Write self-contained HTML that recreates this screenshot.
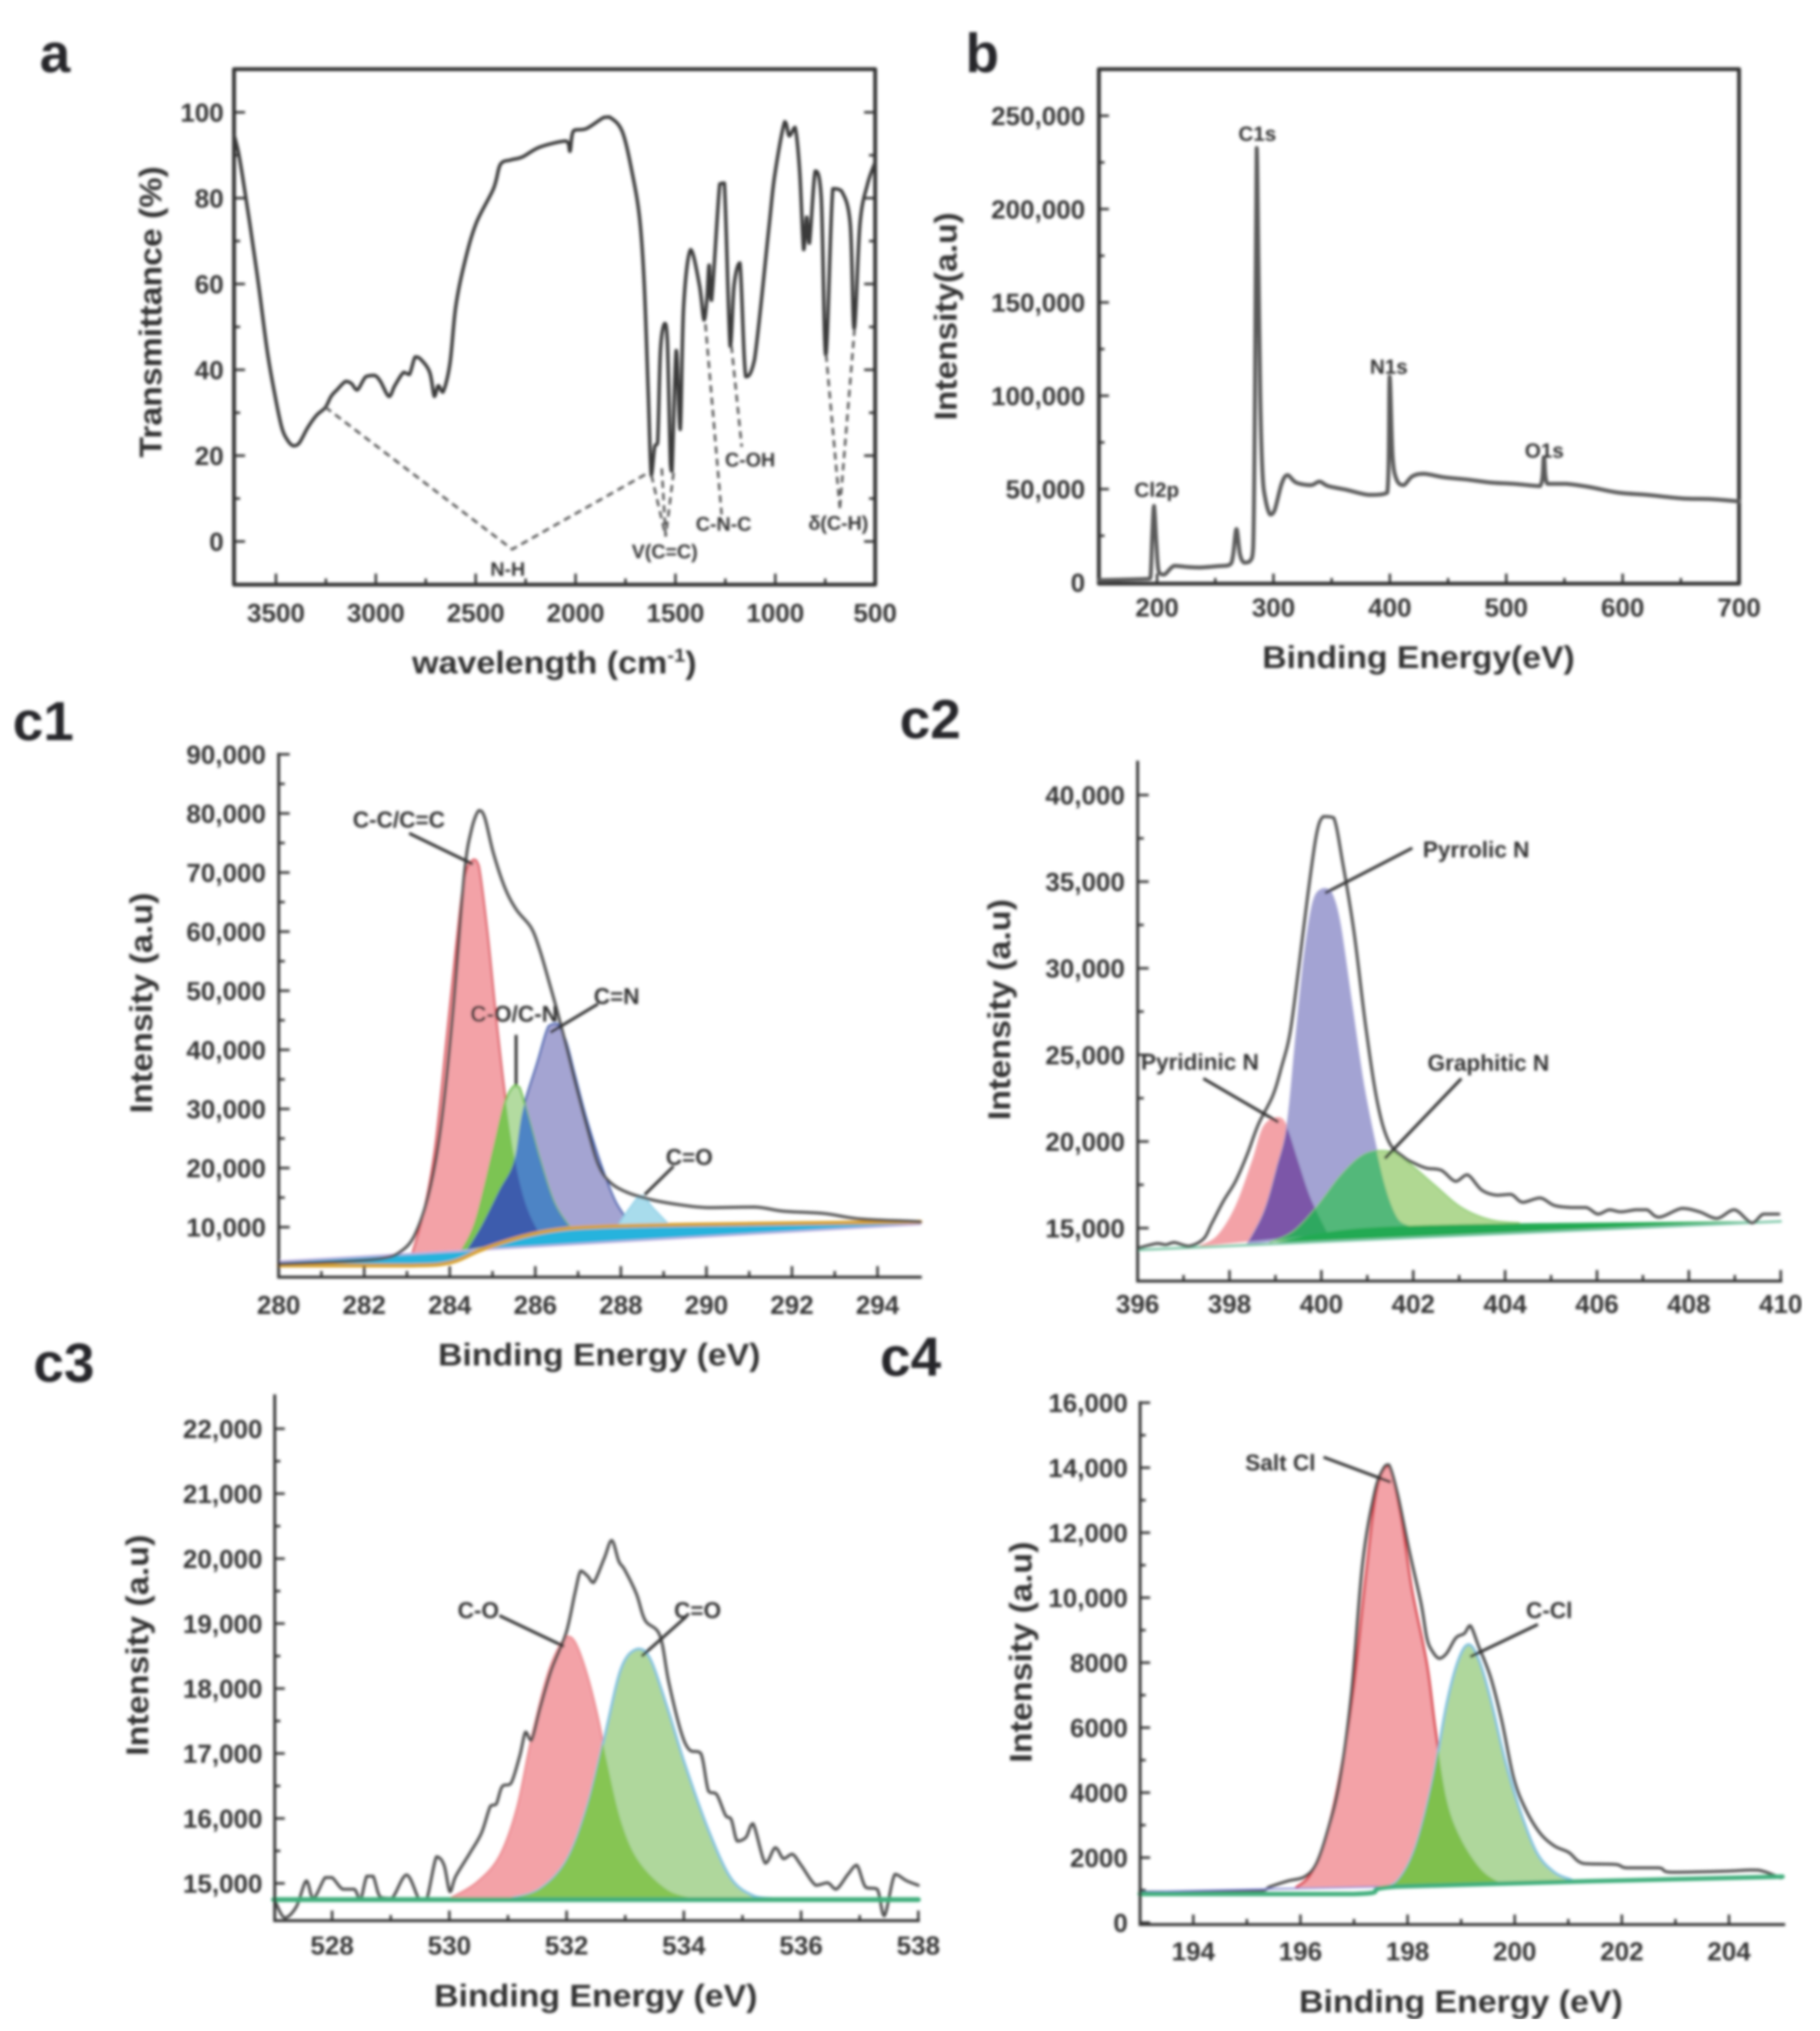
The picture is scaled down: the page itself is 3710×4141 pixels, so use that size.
<!DOCTYPE html>
<html lang="en">
<head>
<meta charset="utf-8">
<title>FTIR and XPS spectra</title>
<style>
html,body{margin:0;padding:0;background:#fff;width:3710px;height:4141px;overflow:hidden}
svg{display:block;font-family:"Liberation Sans",Arial,sans-serif;font-weight:700}
.t{fill:#333;font-size:64px}
.an{fill:#333;font-size:46px;text-anchor:middle}
.pl{fill:#26282c;font-size:112px}
.ld{stroke:#333;stroke-width:6;fill:none}
.ds{stroke:#555;stroke-width:5;stroke-dasharray:15 10;fill:none}
</style>
</head>
<body>
<svg id="fig" xmlns="http://www.w3.org/2000/svg" width="3710" height="4141" viewBox="0 0 3710 4141">
<defs><filter id="soft" x="0" y="0" width="100%" height="100%" filterUnits="objectBoundingBox"><feGaussianBlur stdDeviation="3"/></filter></defs>
<rect width="3710" height="4141" fill="#fff"/>
<g filter="url(#soft)">
<g id="panel-a">
  <g id="a-marks"></g>
  <text class="pl" x="81" y="147">a</text>
  <text class="t" transform="translate(329,933) rotate(-90)" textLength="594" lengthAdjust="spacingAndGlyphs">Transmittance (%)</text>
  <text class="t" x="840" y="1373" textLength="580" lengthAdjust="spacingAndGlyphs">wavelength (cm<tspan font-size="38" dy="-24">-1</tspan><tspan dy="24">)</tspan></text>
  <polyline class="ds" points="663,830 1044,1120 1325,962"/>
  <polyline class="ds" points="1328,969 1357,1094"/>
  <polyline class="ds" points="1349,955 1357,1094"/>
  <polyline class="ds" points="1373,964 1357,1094"/>
  <polyline class="ds" points="1438,661 1471,1049"/>
  <polyline class="ds" points="1491,705 1512,911"/>
  <polyline class="ds" points="1684,723 1712,1036"/>
  <polyline class="ds" points="1742,670 1712,1036"/>
  <text class="an" x="1035" y="1174" style="font-size:40px">N-H</text>
  <text class="an" x="1355" y="1138" style="font-size:40px">V(C=C)</text>
  <text class="an" x="1475" y="1082" style="font-size:40px">C-N-C</text>
  <text class="an" x="1529" y="951" style="font-size:40px">C-OH</text>
  <text class="an" x="1709" y="1080" style="font-size:40px">δ(C-H)</text>
</g>
<g id="panel-b">
  <g id="b-marks"></g>
  <text class="pl" x="1968" y="147">b</text>
  <text class="t" transform="translate(1950,857) rotate(-90)" textLength="424" lengthAdjust="spacingAndGlyphs">Intensity(a.u)</text>
  <text class="t" x="2573" y="1362" textLength="637" lengthAdjust="spacingAndGlyphs">Binding Energy(eV)</text>
  <text class="an" x="2563" y="287" style="font-size:42px">C1s</text>
  <text class="an" x="2831" y="762" style="font-size:42px">N1s</text>
  <text class="an" x="3148" y="933" style="font-size:42px">O1s</text>
  <text class="an" x="2358" y="1013" style="font-size:42px">Cl2p</text>
</g>
<g id="panel-c1">
  <g id="c1-marks"></g>
  <text class="pl" x="26" y="1509">c1</text>
  <text class="t" transform="translate(310,2270) rotate(-90)" textLength="450" lengthAdjust="spacingAndGlyphs">Intensity (a.u)</text>
  <text class="t" x="893" y="2784" textLength="657" lengthAdjust="spacingAndGlyphs">Binding Energy (eV)</text>
  <line class="ld" x1="834" y1="1699" x2="964" y2="1762"/>
  <line class="ld" x1="1052" y1="2110" x2="1052" y2="2212"/>
  <line class="ld" x1="1219" y1="2047" x2="1122" y2="2105"/>
  <line class="ld" x1="1373" y1="2378" x2="1314" y2="2436"/>
  <text class="an" x="813" y="1687">C-C/C=C</text>
  <text class="an" x="1048" y="2083">C-O/C-N</text>
  <text class="an" x="1257" y="2047">C=N</text>
  <text class="an" x="1405" y="2375">C=O</text>
</g>
<g id="panel-c2">
  <g id="c2-marks"></g>
  <text class="pl" x="1834" y="1505">c2</text>
  <text class="t" transform="translate(2059,2284) rotate(-90)" textLength="451" lengthAdjust="spacingAndGlyphs">Intensity (a.u)</text>
  <line class="ld" x1="2879" y1="1729" x2="2701" y2="1821"/>
  <line class="ld" x1="2453" y1="2199" x2="2606" y2="2288"/>
  <line class="ld" x1="2979" y1="2199" x2="2823" y2="2362"/>
  <text class="an" x="3009" y="1748">Pyrrolic N</text>
  <text class="an" x="2446" y="2181">Pyridinic N</text>
  <text class="an" x="3034" y="2183">Graphitic N</text>
</g>
<g id="panel-c3">
  <g id="c3-marks"></g>
  <text class="pl" x="68" y="2817">c3</text>
  <text class="t" transform="translate(302,3580) rotate(-90)" textLength="451" lengthAdjust="spacingAndGlyphs">Intensity (a.u)</text>
  <text class="t" x="885" y="4091" textLength="659" lengthAdjust="spacingAndGlyphs">Binding Energy (eV)</text>
  <line class="ld" x1="1018" y1="3294" x2="1150" y2="3357"/>
  <line class="ld" x1="1399" y1="3296" x2="1308" y2="3377"/>
  <text class="an" x="975" y="3299">C-O</text>
  <text class="an" x="1422" y="3299">C=O</text>
</g>
<g id="panel-c4">
  <g id="c4-marks"></g>
  <text class="pl" x="1794" y="2805">c4</text>
  <text class="t" transform="translate(2103,3594) rotate(-90)" textLength="451" lengthAdjust="spacingAndGlyphs">Intensity (a.u)</text>
  <text class="t" x="2648" y="4103" textLength="660" lengthAdjust="spacingAndGlyphs">Binding Energy (eV)</text>
  <line class="ld" x1="2698" y1="2971" x2="2835" y2="3022"/>
  <line class="ld" x1="3135" y1="3312" x2="2997" y2="3378"/>
  <text class="an" x="2610" y="2998">Salt Cl</text>
  <text class="an" x="3158" y="3299">C-Cl</text>
</g>
</g>
</svg>
<script>
/* ---------- Panel a: FTIR ---------- */
const aWavenumber=[3709,3689,3668,3631,3587,3544,3506,3471,3442,3413,3384,3340,3297,3253,3224,3195,3151,3122,3093,3050,3006,2977,2934,2905,2861,2832,2803,2774,2730,2707,2687,2664,2629,2600,2556,2498,2411,2376,2324,2266,2179,2048,2028,2010,1946,1859,1830,1766,1714,1679,1656,1636,1621,1604,1589,1575,1554,1540,1525,1517,1496,1476,1459,1424,1380,1357,1342,1331,1319,1278,1255,1226,1206,1177,1148,1104,1032,1003,953,930,901,878,858,843,829,800,770,747,712,669,625,605,576,538,500];
const aTransmittance=[94.6,90.9,85.3,74.1,59.8,44.5,34.3,26.6,23.6,22.3,22.9,26.6,29.4,31.2,33.8,35.3,37.3,36.8,35.3,38.4,38.7,37.3,33.8,36.3,39.4,38.9,43,42.4,39.4,33.8,36.3,34.8,41.4,54.7,64.9,74.1,82.2,87.9,88.9,89.6,91.9,93.3,90.9,95.7,96.2,98.8,98.9,95.5,85.3,75.1,59.8,34.3,15.4,22,23.1,44.5,50.8,46.5,18,16.4,44.5,26.1,54.7,68,59.8,51.6,56.7,64.4,56.2,83.3,83.5,45.5,59.8,64.9,38.4,42.4,73.1,85.3,97.8,94.5,96.5,86.3,68,75.6,69.5,86.3,80.2,43.5,82.2,81.7,74.1,49.6,74.1,83.3,88.4];
const aXTicks=[3500,3000,2500,2000,1500,1000,500];
const aYTicks=[0,20,40,60,80,100];

/* ---------- Panel b: survey ---------- */
const bEnergy=[150,192,194.4,195.9,197.4,199.4,201.4,206.3,214.8,227.3,237.3,252.2,262.2,265.2,268.2,271.2,274.7,279.6,282.6,284.1,285.6,287.1,288.6,290.6,293.1,297.1,301,307,312,319.5,332,339.5,347,362,382,397.8,399.8,402.3,405.8,411.8,419.2,429.2,446.7,466.6,486.6,506.5,529,532.4,535.4,551.4,571.3,596.2,621,651.1,676,700];
const bIntensity=[1200,1900,2800,25800,41000,21100,5900,4200,8900,8200,8000,8700,9400,14100,28600,15200,10600,11300,18800,100900,232700,171300,100900,58600,44600,36400,38700,52800,57500,53500,52100,54000,51600,49700,46900,48100,110300,68000,55100,52100,56800,58200,56300,55100,53500,52800,51600,66900,52800,52800,51100,48100,46900,45000,44600,43400];
const bXTicks=[200,300,400,500,600,700];
const bYTicks=[0,50000,100000,150000,200000,250000];
const bYLabels=["0","50,000","100,000","150,000","200,000","250,000"];

/* ---------- Panel c1 ---------- */
const c1Energy=[280,281.6,282.44,282.85,283.19,283.53,283.8,284.07,284.34,284.5,284.68,284.82,285.02,285.29,285.56,285.9,286.1,286.31,286.51,286.72,286.92,287.19,287.46,287.73,288.14,288.68,289.36,290.04,291.13,291.8,292.76,293.57,294.76,295];
const c1Envelope=[3770,4220,4740,5850,8800,16200,27350,45900,69600,77000,80500,79250,73300,67400,63700,60700,57000,51800,46600,40700,34800,27350,20700,17700,15900,14700,13800,13300,13400,12700,12300,11400,11000,10900];
const c1CcE=[283.12,283.39,283.66,283.93,284.14,284.34,284.55,284.68,284.88,285.09,285.29,285.5,285.77,286.11,286.38];
const c1CcI=[5480,12500,23640,42200,57000,68900,72200,71100,60000,45100,32500,22160,14000,8800,7300];
const c1CoE=[284.27,284.61,285.02,285.29,285.5,285.63,285.83,286.11,286.45,286.85];
const c1CoI=[5850,11000,22900,31050,33900,33650,28800,21400,14000,9550];
const c1CnE=[284.41,284.75,285.16,285.5,285.7,286.04,286.31,286.51,286.72,286.92,287.19,287.53,287.87,288.21];
const c1CnI=[6220,10300,16230,21050,29570,37700,44000,44400,41400,35900,28500,20700,14400,10700];
const c1OE=[287.94,288.21,288.48,288.75,289.09];
const c1OI=[10400,13260,15340,13260,10700];
const c1BgE=[280,283,284,284.75,285.7,286.5,287.46,289.8,295];
const c1BgI=[3500,3500,4000,6200,8400,9550,10070,10450,10900];
const c1LinE=[280,295];
const c1LinI=[4200,10500];
const c1XTicks=[280,282,284,286,288,290,292,294];
const c1YTicks=[10000,20000,30000,40000,50000,60000,70000,80000,90000];
const c1YLabels=["10,000","20,000","30,000","40,000","50,000","60,000","70,000","80,000","90,000"];

/* ---------- Panel c2 ---------- */
const c2Energy=[396,396.42,396.61,396.8,397.11,397.43,397.62,397.87,398.13,398.38,398.63,398.94,399.13,399.32,399.51,399.7,399.89,400.04,400.27,400.46,400.71,400.97,401.22,401.47,401.79,402.04,402.29,402.61,402.92,403.18,403.49,403.81,404.13,404.38,404.76,405.07,405.45,405.77,406.02,406.27,406.52,406.84,407.09,407.35,407.85,408.23,408.61,408.99,409.37,409.62,409.96];
const c2Envelope=[13840,14115,14040,14170,13960,14370,15300,16570,17700,19220,21000,22630,24280,26300,30090,34140,37680,38760,38690,36160,32110,26550,22250,19980,19100,18720,18460,18340,17700,18080,17200,16900,16950,16490,16740,16310,16190,16190,15810,16060,15940,16060,16060,15630,16140,15940,15560,16060,15300,15810,15810];
const c2PyridinicE=[397.36,397.74,398.13,398.5,398.75,399.07,399.26,399.51,399.77,400.14];
const c2PyridinicI=[13960,14540,16190,18840,20860,21370,20740,18720,16690,14670];
const c2PyrrolicE=[398.38,398.75,399.03,399.26,399.45,399.64,399.83,400.04,400.21,400.4,400.65,400.9,401.16,401.41,401.66,401.91];
const c2PyrrolicI=[14040,15930,18460,20990,26050,30850,33880,34590,34390,32620,28070,23520,19980,17200,15560,15130];
const c2GraphiticE=[398.88,399.39,399.89,400.4,400.84,401.22,401.6,402.04,402.48,403.05,403.68,404.31];
const c2GraphiticI=[14170,14800,16190,17960,19100,19470,19350,18460,17450,16190,15480,15300];
const c2BgE=[396,398.63,399.89,401.16,403.68,408.74,410];
const c2BgI=[13740,14040,14670,15040,15250,15380,15390];
const c2LinE=[396,410];
const c2LinI=[13740,15390];
const c2XTicks=[396,398,400,402,404,406,408,410];
const c2YTicks=[15000,20000,25000,30000,35000,40000];
const c2YLabels=["15,000","20,000","25,000","30,000","35,000","40,000"];

/* ---------- Panel c3 ---------- */
const c3Energy=[527.02,527.19,527.39,527.56,527.68,527.88,528,528.18,528.38,528.48,528.59,528.7,528.82,529.02,529.27,529.49,529.61,529.78,529.91,530.01,530.11,530.36,530.55,530.7,530.8,530.9,531.05,531.2,531.3,531.4,531.55,531.74,531.99,532.14,532.24,532.36,532.46,532.64,532.77,532.89,532.99,533.19,533.34,533.59,533.74,533.94,534.09,534.29,534.42,534.56,534.71,534.81,534.91,535.06,535.18,535.39,535.56,535.7,535.85,536,536.25,536.45,536.6,536.8,536.95,537.1,537.3,537.42,537.6,537.8,538];
const c3Envelope=[14740,14470,14640,15040,14770,15090,15090,14910,14910,14740,15110,15110,14790,14770,15130,14740,14740,15410,15280,14870,15110,15480,15780,16190,16220,16490,16540,16960,17330,17200,17700,18280,18850,19460,19810,19730,19630,20000,20280,19960,19830,19460,19050,18820,18110,17370,17060,17000,16420,16370,16050,15980,15650,15710,15920,15310,15550,15380,15450,15280,14970,15010,14910,15140,15280,14940,14910,14500,15140,15040,14970];
const c3CoE=[530.01,530.46,530.85,531.15,531.4,531.7,531.99,532.14,532.34,532.53,532.68,532.93,533.23,533.72,534.17];
const c3CoI=[14770,15010,15410,16150,17230,18280,18800,18720,18240,17570,16900,15950,15340,14900,14770];
const c3CdoE=[531.05,531.54,531.99,532.34,532.64,532.93,533.21,533.43,533.72,534.02,534.42,534.81,535.21,535.5];
const c3CdoI=[14770,14910,15340,16150,17230,18310,18610,18450,17700,16830,15820,15070,14800,14770];
const c3BgE=[527,538];
const c3BgI=[14750,14750];
const c3XTicks=[528,530,532,534,536,538];
const c3YTicks=[15000,16000,17000,18000,19000,20000,21000,22000];
const c3YLabels=["15,000","16,000","17,000","18,000","19,000","20,000","21,000","22,000"];

/* ---------- Panel c4 ---------- */
const c4Energy=[193,195.21,195.43,195.76,196.08,196.3,196.51,196.73,196.95,197.16,197.38,197.54,197.65,197.81,198.03,198.25,198.36,198.46,198.59,198.73,198.9,199.06,199.17,199.33,199.55,199.76,199.98,200.2,200.47,200.74,201.01,201.28,201.88,202.09,202.69,202.91,203.88,204.42,204.64,204.97];
const c4Envelope=[940,970,1105,1280,1415,1820,2830,4310,7010,11050,13200,13950,14090,13200,11450,9840,8760,8360,8130,8290,8760,8900,9140,8490,7550,6200,4450,3500,2760,2360,2160,1820,1790,1685,1685,1550,1580,1620,1580,1375];
const c4SaltE=[195.92,196.19,196.46,196.73,197,197.22,197.43,197.65,197.87,198.08,198.36,198.52,198.73,199,199.38,199.76];
const c4SaltI=[1080,1480,2560,4450,7280,10650,13350,14050,12540,10250,7950,5930,3770,2560,1620,1190];
const c4CclE=[197.49,197.81,198.14,198.46,198.73,198.95,199.14,199.33,199.55,199.82,200.09,200.41,200.74,201.06];
const c4CclI=[1080,1280,2290,4310,6740,8090,8560,8090,6870,4990,3500,2160,1550,1320];
const c4BgE=[193,197,197.8,205];
const c4BgI=[880,880,1110,1415];
const c4LinE=[193,205];
const c4LinI=[950,1370];
const c4XTicks=[194,196,198,200,202,204];
const c4YTicks=[0,2000,4000,6000,8000,10000,12000,14000,16000];
const c4YLabels=["0","2000","4000","6000","8000","10,000","12,000","14,000","16,000"];

/* ---------- Axis functions ---------- */
const xA=v=>477+(3710-v)*(1307/3210), yA=v=>1104-v*8.75;
const xB=v=>2240+(v-150)*(1305/550), yB=v=>1187.5-v*(951.5/250000);
const xC1=v=>568+(v-280)*87.2, yC1=v=>2502-(v-10000)*0.01205;
const xC2=v=>2319+(v-396)*93.64, yC2=v=>2504-(v-15000)*0.03532;
const xC3=v=>677+(v-528)*119.5, yC3=v=>3840-(v-15000)*0.13243;
const xC4=v=>2432.5+(v-194)*109.2, yC4=v=>3920-v*(1060/16000);

const NS='http://www.w3.org/2000/svg';
const AXIS='#343434', LABEL='#363636';
let clipCount=0;

function clamp(v,a,b){const lo=Math.min(a,b),hi=Math.max(a,b);return Math.max(lo,Math.min(hi,v));}
/* Smooth curve through the data points; control points are clamped so peaks never overshoot. */
function pathD(xs,ys,fx,fy,close){
  const px=xs.map(fx), py=ys.map(fy), n=px.length;
  let d='M'+px[0].toFixed(1)+' '+py[0].toFixed(1);
  for(let i=0;i<n-1;i++){
    const a=Math.max(i-1,0), b=Math.min(i+2,n-1);
    const c1x=clamp(px[i]+(px[i+1]-px[a])/6,px[i],px[i+1]);
    const c1y=clamp(py[i]+(py[i+1]-py[a])/6,py[i],py[i+1]);
    const c2x=clamp(px[i+1]-(px[b]-px[i])/6,px[i],px[i+1]);
    const c2y=clamp(py[i+1]-(py[b]-py[i])/6,py[i],py[i+1]);
    d+='C'+c1x.toFixed(1)+' '+c1y.toFixed(1)+' '+c2x.toFixed(1)+' '+c2y.toFixed(1)+' '+px[i+1].toFixed(1)+' '+py[i+1].toFixed(1);
  }
  return d+(close?'Z':'');
}
function addPath(parent,name,d,fill,stroke,width,clip){
  const el=document.createElementNS(NS,'path');
  
  
  el.setAttribute('d',d);
  el.setAttribute('fill',fill);
  el.setAttribute('stroke',stroke);
  el.setAttribute('stroke-width',width);
  el.setAttribute('stroke-linejoin','round');
  el.setAttribute('stroke-linecap','round');
  if(clip)el.setAttribute('clip-path','url(#'+clip+')');
  parent.appendChild(el);
  return el;
}
function addLine(parent,name,x1,y1,x2,y2,width){
  const el=document.createElementNS(NS,'line');
  
  
  el.setAttribute('x1',x1);el.setAttribute('y1',y1);
  el.setAttribute('x2',x2);el.setAttribute('y2',y2);
  el.setAttribute('stroke',AXIS);
  el.setAttribute('stroke-width',width);
  el.setAttribute('stroke-linecap','square');
  parent.appendChild(el);
}
function addText(parent,name,x,y,anchor,str){
  const el=document.createElementNS(NS,'text');
  
  
  el.setAttribute('x',x);el.setAttribute('y',y);
  el.setAttribute('text-anchor',anchor);
  el.setAttribute('font-size','53');
  el.setAttribute('fill',LABEL);
  el.textContent=str;
  parent.appendChild(el);
}
function addClip(parent,d){
  const id='clip'+(++clipCount);
  const c=document.createElementNS(NS,'clipPath');
  c.setAttribute('id',id);
  const p=document.createElementNS(NS,'path');
  p.setAttribute('d',d);
  c.appendChild(p);
  parent.appendChild(c);
  return id;
}
function addGroup(parent,name,clip){
  const el=document.createElementNS(NS,'g');
  
  
  el.setAttribute('clip-path','url(#'+clip+')');
  parent.appendChild(el);
  return el;
}
function peak(g,name,xs,ys,fx,fy,fill,edge,w){
  addPath(g,name+'-fill',pathD(xs,ys,fx,fy,true),fill,'none',0);
  addPath(g,name+'-edge',pathD(xs,ys,fx,fy,false),'none',edge,w);
}
function overlap(g,name,xa,ya,xb,yb,fx,fy,color){
  const id=addClip(g,pathD(xa,ya,fx,fy,true));
  addPath(g,name,pathD(xb,yb,fx,fy,true),color,'none',0,id);
}
function axes(g,o){
  o.xTicks.forEach((v,i)=>{
    const px=o.fx(v);
    addLine(g,'x-tick',px,o.bottom,px,o.bottom-o.maj,o.tw);
    addText(g,'x-tick-label',px,o.xLabelY,'middle',String(o.xLabels?o.xLabels[i]:v));
    if(i<o.xTicks.length-1){
      const m=o.fx((v+o.xTicks[i+1])/2);
      addLine(g,'x-minor-tick',m,o.bottom,m,o.bottom-o.maj/2,o.tw);
    }
  });
  o.yTicks.forEach((v,i)=>{
    const py=o.fy(v);
    addLine(g,'y-tick',o.left,py,o.left+o.maj,py,o.tw);
    if(o.right)addLine(g,'y-tick-right',o.right,py,o.right-o.maj,py,o.tw);
    addText(g,'y-tick-label',o.yLabelX,py+19,'end',String(o.yLabels?o.yLabels[i]:v));
    if(i<o.yTicks.length-1){
      const m=o.fy((v+o.yTicks[i+1])/2);
      addLine(g,'y-minor-tick',o.left,m,o.left+o.maj/2,m,o.tw);
      if(o.right)addLine(g,'y-minor-tick-right',o.right,m,o.right-o.maj/2,m,o.tw);
    }
  });
}

/* ---------- Panel a draw ---------- */
(function(){
  const g=document.getElementById('a-marks');
  addPath(g,'frame-a','M477 141H1784V1192H477Z','none',AXIS,8);
  axes(g,{fx:xA,fy:yA,xTicks:aXTicks,yTicks:aYTicks,bottom:1192,left:477,right:1784,maj:20,tw:5,xLabelY:1268,yLabelX:456});
  addPath(g,'ftir-spectrum',pathD(aWavenumber,aTransmittance,xA,yA,false),'none','#3a3a3a',7);
})();

/* ---------- Panel b draw ---------- */
(function(){
  const g=document.getElementById('b-marks');
  addPath(g,'frame-b','M2240 141H3545V1190H2240Z','none',AXIS,8);
  axes(g,{fx:xB,fy:yB,xTicks:bXTicks,yTicks:bYTicks,yLabels:bYLabels,bottom:1190,left:2240,maj:18,tw:5,xLabelY:1257,yLabelX:2212});
  addPath(g,'survey-spectrum',pathD(bEnergy,bIntensity,xB,yB,false),'none','#5a5a5a',8);
})();

/* ---------- Panel c1 draw ---------- */
(function(){
  const g=document.getElementById('c1-marks');
  peak(g,'cn-peak',c1CnE,c1CnI,xC1,yC1,'#a4a4d2','#3f5fae',4);
  peak(g,'cc-peak',c1CcE,c1CcI,xC1,yC1,'#f3a2a7','#dd5a63',4);
  peak(g,'co-cn-peak',c1CoE,c1CoI,xC1,yC1,'#b3dba0','#6dbf4a',4);
  overlap(g,'co-cc-overlap',c1CcE,c1CcI,c1CoE,c1CoI,xC1,yC1,'#7cc452');
  overlap(g,'co-cn-overlap',c1CnE,c1CnI,c1CoE,c1CoI,xC1,yC1,'#4d84c5');
  const redClip=addClip(g,pathD(c1CcE,c1CcI,xC1,yC1,true));
  const greenClip=addClip(g,pathD(c1CoE,c1CoI,xC1,yC1,true));
  const triple=addGroup(g,'triple-overlap-group',redClip);
  addPath(triple,'triple-overlap',pathD(c1CnE,c1CnI,xC1,yC1,true),'#3e5bad','none',0,greenClip);
  peak(g,'c-double-o-peak',c1OE,c1OI,xC1,yC1,'#a8dcec','#8fd0e8',3);
  const bandX=c1BgE.concat(c1LinE.slice().reverse());
  const bandY=c1BgI.concat(c1LinI.slice().reverse());
  addPath(g,'background-band',pathD(bandX,bandY,xC1,yC1,true),'#25b3dd','none',0);
  addPath(g,'linear-background',pathD(c1LinE,c1LinI,xC1,yC1,false),'none','#bdb0e0',4);
  addPath(g,'fit-background',pathD(c1BgE,c1BgI,xC1,yC1,false),'none','#d6a02e',8);
  addPath(g,'c1-envelope',pathD(c1Energy,c1Envelope,xC1,yC1,false),'none','#505050',6);
  addLine(g,'y-axis-c1',568,1538,568,2604,6);
  addLine(g,'x-axis-c1',568,2604,1876,2604,6);
  axes(g,{fx:xC1,fy:yC1,xTicks:c1XTicks,yTicks:c1YTicks,yLabels:c1YLabels,bottom:2604,left:568,maj:20,tw:5,xLabelY:2679,yLabelX:542});
})();

/* ---------- Panel c2 draw ---------- */
(function(){
  const g=document.getElementById('c2-marks');
  peak(g,'pyridinic-peak',c2PyridinicE,c2PyridinicI,xC2,yC2,'#f3a2a7','#f3a2a7',3);
  peak(g,'pyrrolic-peak',c2PyrrolicE,c2PyrrolicI,xC2,yC2,'#a3a3d3','#a3a3d3',3);
  overlap(g,'pyridinic-pyrrolic-overlap',c2PyridinicE,c2PyridinicI,c2PyrrolicE,c2PyrrolicI,xC2,yC2,'#7b57a8');
  peak(g,'graphitic-peak',c2GraphiticE,c2GraphiticI,xC2,yC2,'#b0d892','#8fcc74',3);
  overlap(g,'pyrrolic-graphitic-overlap',c2PyrrolicE,c2PyrrolicI,c2GraphiticE,c2GraphiticI,xC2,yC2,'#52b87a');
  overlap(g,'pyridinic-graphitic-overlap',c2PyridinicE,c2PyridinicI,c2GraphiticE,c2GraphiticI,xC2,yC2,'#2fa860');
  const bandX=c2BgE.concat(c2LinE.slice().reverse());
  const bandY=c2BgI.concat(c2LinI.slice().reverse());
  addPath(g,'background-band',pathD(bandX,bandY,xC2,yC2,true),'#23aa52','none',0);
  addPath(g,'linear-background',pathD(c2LinE,c2LinI,xC2,yC2,false),'none','#7fc7a8',5);
  addPath(g,'c2-envelope',pathD(c2Energy,c2Envelope,xC2,yC2,false),'none','#505050',6);
  addLine(g,'y-axis-c2',2319,1554,2319,2612,6);
  addLine(g,'x-axis-c2',2319,2612,3630,2612,6);
  axes(g,{fx:xC2,fy:yC2,xTicks:c2XTicks,yTicks:c2YTicks,yLabels:c2YLabels,bottom:2612,left:2319,maj:20,tw:5,xLabelY:2677,yLabelX:2293});
})();

/* ---------- Panel c3 draw ---------- */
(function(){
  const g=document.getElementById('c3-marks');
  peak(g,'c-o-peak',c3CoE,c3CoI,xC3,yC3,'#f3a2a7','#ec8a90',4);
  peak(g,'c-double-o-peak',c3CdoE,c3CdoI,xC3,yC3,'#afd79c','#7fc0df',5);
  overlap(g,'c3-peak-overlap',c3CoE,c3CoI,c3CdoE,c3CdoI,xC3,yC3,'#86c552');
  addPath(g,'c3-envelope',pathD(c3Energy,c3Envelope,xC3,yC3,false),'none','#505050',6);
  addPath(g,'c3-baseline',pathD(c3BgE,c3BgI,xC3,yC3,false),'none','#3fae7c',10);
  addLine(g,'y-axis-c3',560,2846,560,3916,6);
  addLine(g,'x-axis-c3',560,3916,1872,3916,6);
  axes(g,{fx:xC3,fy:yC3,xTicks:c3XTicks,yTicks:c3YTicks,yLabels:c3YLabels,bottom:3916,left:560,maj:18,tw:5,xLabelY:3985,yLabelX:535});
})();

/* ---------- Panel c4 draw ---------- */
(function(){
  const g=document.getElementById('c4-marks');
  peak(g,'salt-cl-peak',c4SaltE,c4SaltI,xC4,yC4,'#f3a2a7','#d9404a',5);
  peak(g,'c-cl-peak',c4CclE,c4CclI,xC4,yC4,'#afd79c','#7fc0df',5);
  overlap(g,'c4-peak-overlap',c4SaltE,c4SaltI,c4CclE,c4CclI,xC4,yC4,'#7fc04e');
  addPath(g,'c4-envelope',pathD(c4Energy,c4Envelope,xC4,yC4,false),'none','#505050',6);
  addPath(g,'linear-background',pathD(c4LinE,c4LinI,xC4,yC4,false),'none','#7a7fd0',3);
  addPath(g,'fit-background',pathD(c4BgE,c4BgI,xC4,yC4,false),'none','#3fae7c',9);
  addLine(g,'y-axis-c4',2324,2860,2324,3924,6);
  addLine(g,'x-axis-c4',2324,3924,3636,3924,6);
  axes(g,{fx:xC4,fy:yC4,xTicks:c4XTicks,yTicks:c4YTicks,yLabels:c4YLabels,bottom:3924,left:2324,maj:18,tw:5,xLabelY:3997,yLabelX:2299});
})();
</script>
</body>
</html>
